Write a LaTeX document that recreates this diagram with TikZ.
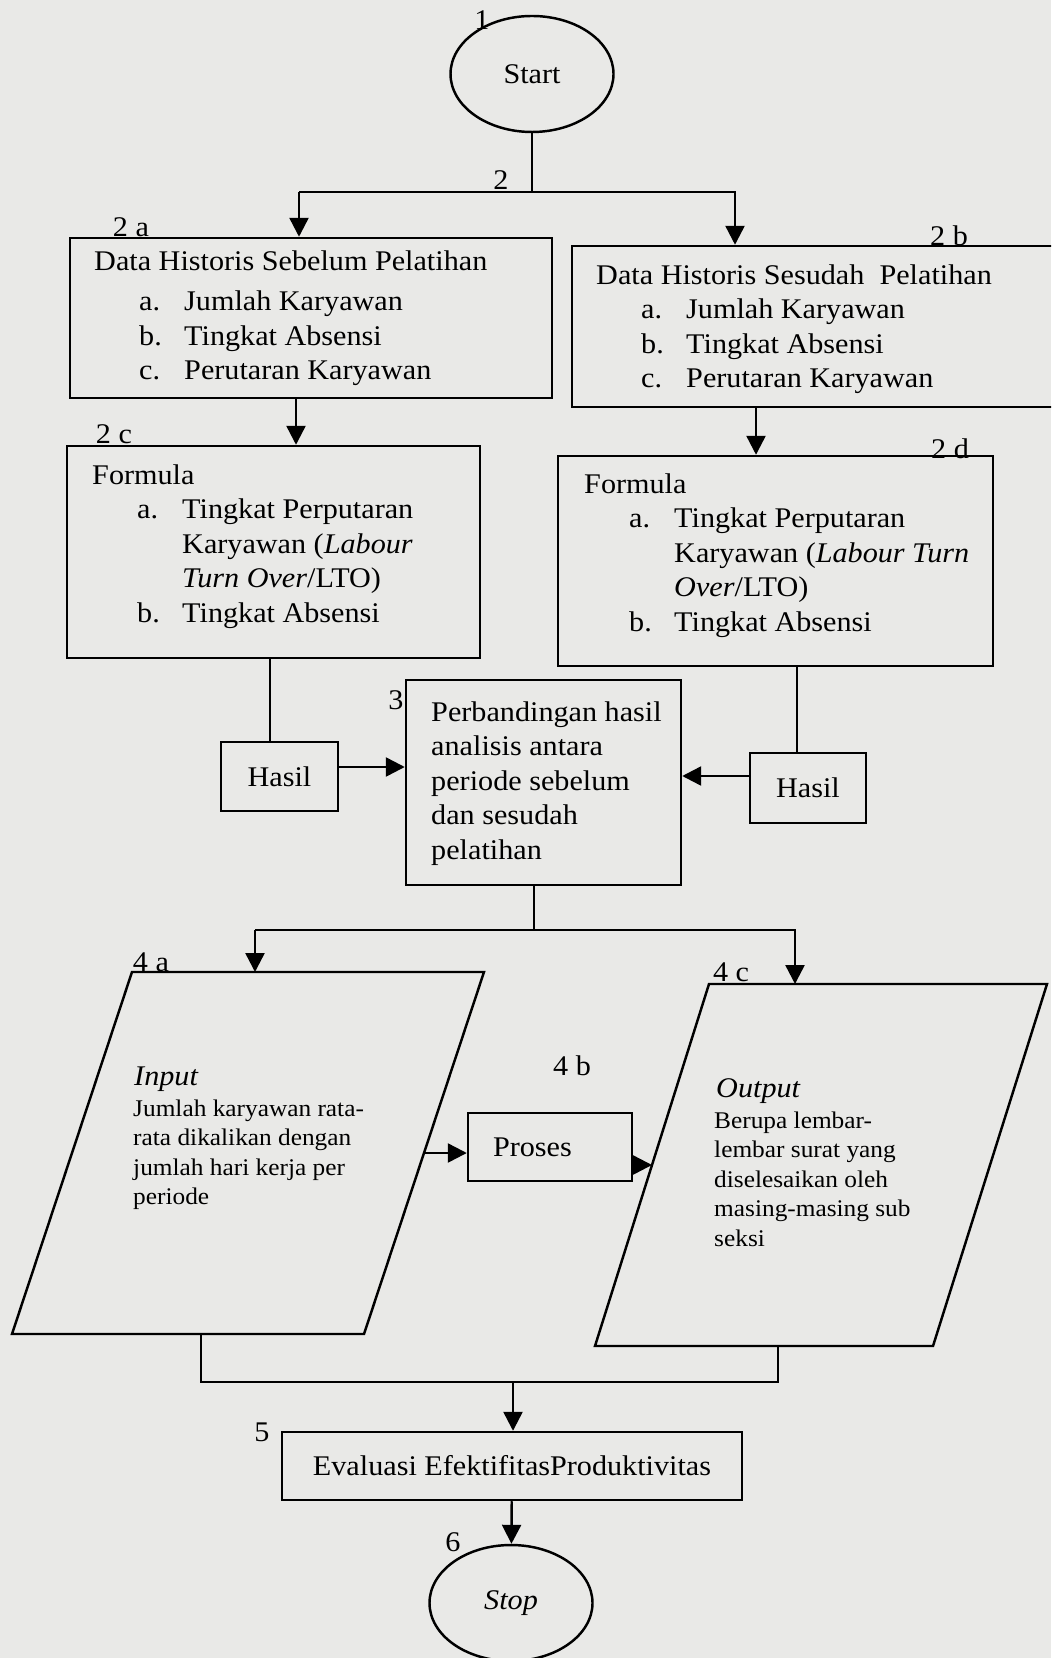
\documentclass[tikz,border=0pt]{standalone}
\usepackage{fontspec}
\setmainfont{Liberation Serif}[FakeStretch=1.06]
\usetikzlibrary{arrows.meta,calc,positioning,shapes.geometric}
\definecolor{paper}{RGB}{233,233,231}
\newcommand{\mainsize}{\fontsize{8.1}{9.8}\selectfont}
\newcommand{\smallsize}{\fontsize{6.8}{8.4}\selectfont}
\newcommand{\itemlbl}[1]{\hspace*{0.45cm}\makebox[0.45cm][l]{#1}}
\newcommand{\itemcont}{\hspace*{0.9cm}}

\begin{document}
\begin{tikzpicture}[line width=0.7pt,
	every node/.append style={font=\mainsize},
	arr/.style={-{Triangle[length=5.4pt,width=5.4pt]}},
	box/.style={draw, rectangle, inner sep=0pt},
	oval/.style={draw, ellipse, inner sep=0pt, minimum width=1.63cm, minimum height=1.16cm},
	txt/.style={inner sep=0pt, anchor=north west, align=left},
	small/.style={inner sep=0pt, anchor=north west, align=left, font=\smallsize},
	num/.style={inner sep=0pt}]
	
	\path[use as bounding box, fill=paper] (0,0) rectangle (10.51,-16.58);
	\clip (0,0) rectangle (10.51,-16.58);
	
	\node[oval] (start) at (5.32,-0.74) {Start};
	\node[box, minimum width=4.82cm, minimum height=1.60cm] (histA) at (3.11,-3.18) {};
	\node[box, minimum width=4.88cm, minimum height=1.61cm] (histB) at (8.16,-3.265) {};
	\node[box, minimum width=4.13cm, minimum height=2.12cm] (formA) at (2.735,-5.52) {};
	\node[box, minimum width=4.35cm, minimum height=2.10cm] (formB) at (7.755,-5.61) {};
	\node[box, minimum width=2.75cm, minimum height=2.05cm] (banding) at (5.435,-7.825) {};
	\node[box, minimum width=1.17cm, minimum height=0.69cm] (hasilA) at (2.795,-7.765) {Hasil};
	\node[box, minimum width=1.16cm, minimum height=0.70cm] (hasilB) at (8.08,-7.88) {Hasil};
	\node[box, text width=1.14cm, inner xsep=0.25cm, minimum height=0.68cm, align=left] (proses) at (5.50,-11.47) {Proses};
	\node[box, minimum width=4.60cm, minimum height=0.68cm] (evaluasi) at (5.12,-14.66) {Evaluasi EfektifitasProduktivitas};
	\node[oval] (stop) at (5.11,-16.03) {\textit{Stop}};
	
	\node[txt] (histAtxt) at (0.93,-2.495) {Data Historis Sebelum Pelatihan\\[0.06cm]
		\itemlbl{a.}Jumlah Karyawan\\
		\itemlbl{b.}Tingkat Absensi\\
		\itemlbl{c.}Perutaran Karyawan};
	\node[txt] (histBtxt) at (5.95,-2.635) {Data Historis Sesudah~ Pelatihan\\
		\itemlbl{a.}Jumlah Karyawan\\
		\itemlbl{b.}Tingkat Absensi\\
		\itemlbl{c.}Perutaran Karyawan};
	\node[txt] (formAtxt) at (0.91,-4.635) {Formula\\
		\itemlbl{a.}Tingkat Perputaran\\
		\itemcont Karyawan (\textit{Labour}\\
		\itemcont \textit{Turn Over}/LTO)\\
		\itemlbl{b.}Tingkat Absensi};
	\node[txt] (formBtxt) at (5.83,-4.725) {Formula\\
		\itemlbl{a.}Tingkat Perputaran\\
		\itemcont Karyawan (\textit{Labour Turn}\\
		\itemcont \textit{Over}/LTO)\\
		\itemlbl{b.}Tingkat Absensi};
	\node[txt] (bandingtxt) at (4.30,-7.005) {Perbandingan hasil\\analisis antara\\periode sebelum\\dan sesudah\\pelatihan};
	
	\coordinate (inTL) at (1.32,-9.72);
	\coordinate (inTR) at (4.84,-9.72);
	\coordinate (inBR) at (3.64,-13.34);
	\coordinate (inBL) at (0.12,-13.34);
	\draw (inTL) -- (inTR) -- (inBR) -- (inBL) -- cycle;
	\coordinate (inR) at ($(inTR)!0.5!(inBR)$);
	
	\coordinate (outTL) at (7.09,-9.84);
	\coordinate (outTR) at (10.47,-9.84);
	\coordinate (outBR) at (9.33,-13.46);
	\coordinate (outBL) at (5.95,-13.46);
	\draw (outTL) -- (outTR) -- (outBR) -- (outBL) -- cycle;
	\coordinate (outL) at ($(outTL)!0.5!(outBL)$);
	
	\node[txt, anchor=base west, font=\mainsize\itshape] (inputhd) at (1.33,-10.85) {Input};
	\node[small] (inputtxt) at (1.32,-10.986) {Jumlah karyawan rata-\\rata dikalikan dengan\\jumlah hari kerja per\\periode};
	\node[txt, anchor=base west, font=\mainsize\itshape] (outputhd) at (7.15,-10.97) {Output};
	\node[small] (outputtxt) at (7.13,-11.106) {Berupa lembar-\\lembar surat yang\\diselesaikan oleh\\masing-masing sub\\seksi};
	
	\node[num] (n1) at (4.82,-0.20) {1};
	\node[num] (n2) at (5.01,-1.80) {2};
	\node[num] (n2a) at (1.31,-2.27) {2 a};
	\node[num] (n2b) at (9.49,-2.36) {2 b};
	\node[num] (n2c) at (1.14,-4.34) {2 c};
	\node[num] (n2d) at (9.50,-4.49) {2 d};
	\node[num] (n3) at (3.96,-7.00) {3};
	\node[num] (n4a) at (1.51,-9.62) {4 a};
	\node[num] (n4b) at (5.72,-10.66) {4 b};
	\node[num] (n4c) at (7.31,-9.72) {4 c};
	\node[num] (n5) at (2.62,-14.32) {5};
	\node[num] (n6) at (4.53,-15.42) {6};
	
	\coordinate (split1a) at (2.99,-1.92);
	\coordinate (split1b) at (7.35,-1.92);
	\draw (start.south) -- (start.south |- split1a);
	\draw[arr] (split1a) -- (split1a |- histA.north);
	\draw[arr] (split1a) -- (split1b) -- (split1b |- histB.north);
	
	\coordinate (xa) at (2.96,0);
	\coordinate (xb) at (7.56,0);
	\coordinate (xc) at (2.70,0);
	\coordinate (xd) at (7.97,0);
	\draw[arr] (histA.south -| xa) -- (formA.north -| xa);
	\draw[arr] (histB.south -| xb) -- (formB.north -| xb);
	\draw (formA.south -| xc) -- (hasilA.north -| xc);
	\draw (formB.south -| xd) -- (hasilB.north -| xd);
	\draw[arr] ([yshift=0.095cm]hasilA.east) -- ([yshift=0.095cm]hasilA.east -| banding.west);
	\draw[arr] ([yshift=0.12cm]hasilB.west) -- ([yshift=0.12cm]hasilB.west -| banding.east);
	
	\coordinate (split2) at (5.34,-9.30);
	\coordinate (split2a) at (2.55,-9.30);
	\coordinate (split2b) at (7.95,-9.30);
	\draw (banding.south -| split2) -- (split2);
	\draw[arr] (split2a) -- (split2a |- inTL);
	\draw[arr] (split2a) -- (split2b) -- (split2b |- outTL);
	
	\draw[arr] (inR) -- (inR -| proses.west);
	\draw[arr] (proses.east |- outL) -- (outL);
	
	\coordinate (join1) at (2.01,-13.82);
	\coordinate (join2) at (7.78,-13.82);
	\coordinate (join) at (5.13,-13.82);
	\draw (join1 |- inBL) -- (join1) -- (join2) -- (join2 |- outBL);
	\draw[arr] (join) -- (join |- evaluasi.north);
	\draw[arr] (evaluasi) -- (stop);
\end{tikzpicture}
\end{document}
